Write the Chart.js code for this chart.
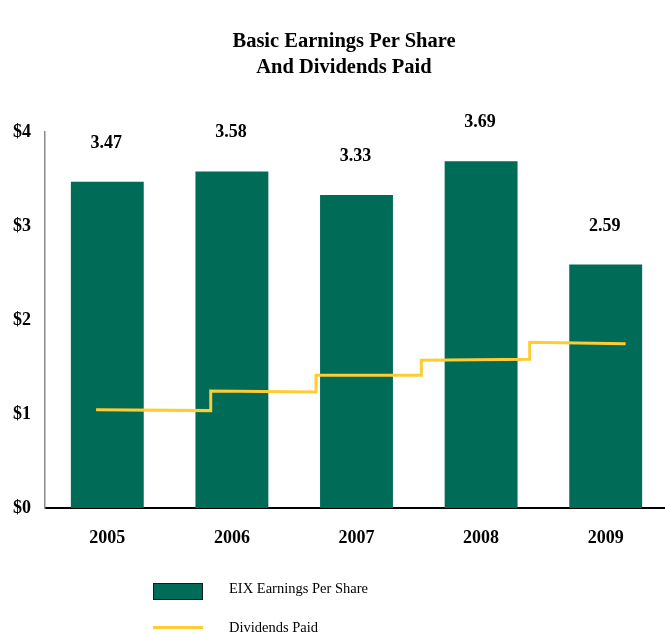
<!DOCTYPE html>
<html>
<head>
<meta charset="utf-8">
<script src="https://cdn.jsdelivr.net/npm/chart.js@4.4.1/dist/chart.umd.min.js"></script>
<style>
  html, body { margin: 0; padding: 0; background: #fff; overflow: hidden; }
  #wrap { position: relative; width: 665px; height: 635px; overflow: hidden; }
  canvas { position: absolute; left: 0; top: 0; }
  .title { position: absolute; left: 144px; width: 400px; text-align: center;
           font-family: 'Liberation Serif', 'Times New Roman', serif; font-weight: bold; font-size: 20.5px; line-height: 26px; top: 27px; color: #000; }
  .leg { position: absolute; font-family: 'Liberation Serif', 'Times New Roman', serif; font-size: 14.5px; color: #000; white-space: nowrap; }
  .legBox { position: absolute; left: 153px; top: 583px; width: 48px; height: 15px; background: #006B56; border: 1px solid #1a1a1a; }
  .legLine { position: absolute; left: 153px; top: 626px; width: 50px; height: 3px; background: #FFCC33; }
</style>
</head>
<body>
<div id="wrap">
  <canvas id="c" width="668" height="635"></canvas>
  <div class="title">Basic Earnings Per Share<br>And Dividends Paid</div>
  <div class="legBox"></div>
  <div class="leg" style="left:229px; top:580px;">EIX Earnings Per Share</div>
  <div class="legLine"></div>
  <div class="leg" style="left:229px; top:619px;">Dividends Paid</div>
</div>
<script>
// ---- data ----
const categories = ['2005', '2006', '2007', '2008', '2009'];
const epsValues = [3.47, 3.58, 3.33, 3.69, 2.59];
// dividends paid (step line), x in category units (0 = 2005 ... 4 = 2009)
const dividendX = [-0.09, 0.83, 0.83, 1.675, 1.675, 2.52, 2.52, 3.39, 3.39, 4.16];
const dividendY = [1.046, 1.036, 1.245, 1.234, 1.412, 1.412, 1.571, 1.582, 1.763, 1.748];
const yTickValues = [0, 1, 2, 3, 4];

const SERIF = "'Liberation Serif', 'Times New Roman', serif";

const valueLabels = {
  id: 'valueLabels',
  afterDatasetsDraw(chart) {
    const meta = chart.getDatasetMeta(1);
    const ctx = chart.ctx;
    ctx.save();
    ctx.font = 'bold 18px ' + SERIF;
    ctx.fillStyle = '#000';
    ctx.textAlign = 'center';
    ctx.textBaseline = 'alphabetic';
    meta.data.forEach((bar, i) => {
      ctx.fillText(epsValues[i].toFixed(2), bar.x - 1, bar.y - 34);
    });
    ctx.restore();
  }
};

new Chart(document.getElementById('c'), {
  type: 'bar',
  data: {
    labels: categories,
    datasets: [
      {
        type: 'line',
        label: 'Dividends Paid',
        data: dividendX.map((x, i) => ({ x: x, y: dividendY[i] })),
        xAxisID: 'xLine',
        yAxisID: 'y',
        borderColor: '#FFCC33',
        borderWidth: 3,
        pointRadius: 0,
        tension: 0,
        fill: false,
        borderJoinStyle: 'miter',
        order: 0
      },
      {
        type: 'bar',
        label: 'EIX Earnings Per Share',
        data: epsValues,
        xAxisID: 'x',
        yAxisID: 'y',
        backgroundColor: '#006B56',
        borderWidth: 0,
        grouped: false,
        barPercentage: 0.585,
        categoryPercentage: 1.0,
        order: 1
      }
    ]
  },
  options: {
    responsive: false,
    animation: false,
    layout: { padding: { top: 132, left: 0, right: 0, bottom: 0 } },
    plugins: { legend: { display: false }, tooltip: { enabled: false }, title: { display: false } },
    scales: {
      x: {
        type: 'category',
        offset: true,
        grid: { display: false, drawTicks: false },
        border: { display: true, color: '#000', width: 2 },
        ticks: { font: { family: SERIF, size: 18, weight: 'bold' }, color: '#000', padding: 20, maxRotation: 0 },
        afterFit(scale) { scale.height = 127; }
      },
      xLine: {
        type: 'linear',
        axis: 'x',
        position: 'bottom',
        min: -0.5,
        max: 4.5,
        offset: false,
        grid: { offset: false },
        display: false
      },
      y: {
        type: 'linear',
        min: 0,
        max: 4,
        afterBuildTicks(scale) { scale.ticks = yTickValues.map(v => ({ value: v })); },
        grid: { display: false, drawTicks: false },
        border: { display: true, color: '#8a8a8a', width: 1.5 },
        ticks: {
          font: { family: SERIF, size: 18, weight: 'bold' },
          color: '#000',
          padding: 14,
          callback: v => '$' + v
        },
        afterFit(scale) { scale.width = 45; }
      }
    }
  },
  plugins: [valueLabels]
});
</script>
</body>
</html>
